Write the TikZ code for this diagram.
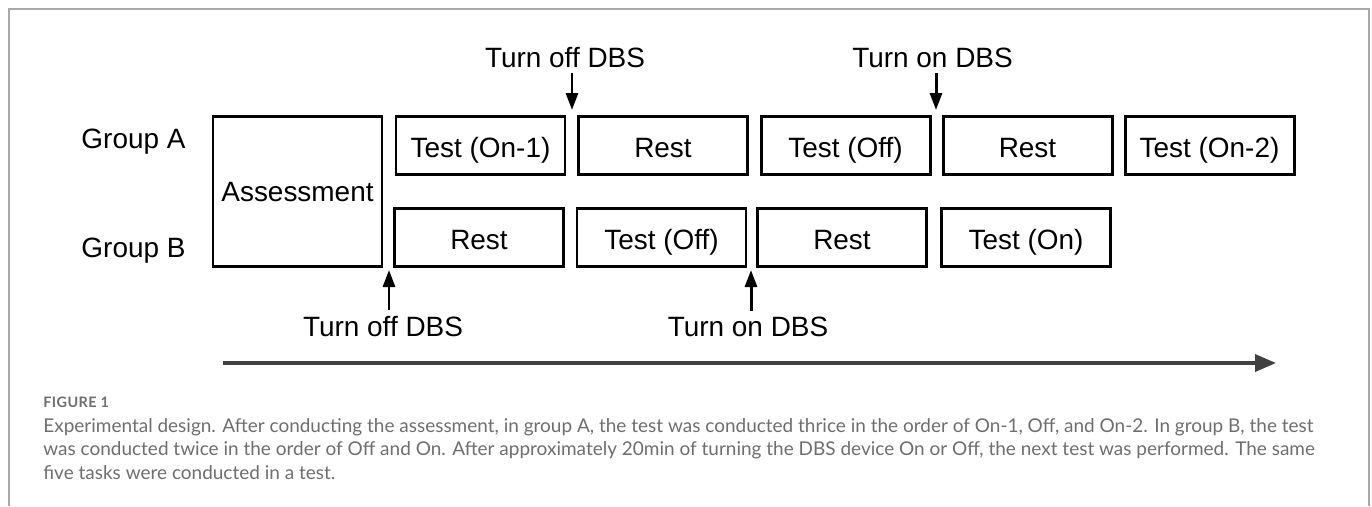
\documentclass[tikz,border=0pt]{standalone}
\usepackage{fontspec}
\setmainfont{Liberation Sans}
\newfontfamily\capfont{Lato}
\newfontfamily\figfont[LetterSpace=3]{Lato}
\usepackage{tikz}
\usetikzlibrary{arrows.meta,positioning}
\definecolor{framegray}{HTML}{A8A8A8}
\definecolor{axisgray}{HTML}{404040}
\definecolor{captiongray}{HTML}{6E6E6E}

\begin{document}
\begin{tikzpicture}[>=Stealth, font=\fontsize{15.9}{19}\selectfont,
  phase/.style={draw,line width=1.7pt,minimum width=3.38cm,minimum height=1.16cm,inner sep=0pt,text height=0.46cm,text depth=0cm},
  grp/.style={anchor=base},
  switch/.style={anchor=base,inner sep=3pt},
  turn/.style={-{Triangle[length=0.34cm,width=0.24cm]},line width=1.7pt},
  timeline/.style={-{Triangle[length=0.42cm,width=0.34cm]},line width=2pt,axisgray}]
 \useasboundingbox (0,0) rectangle (27.44,-10.12);
 % frame
 \draw[framegray,line width=0.8pt] (0.18,-10.12) |- (27.38,-0.18) -- (27.38,-10.12);
 % groups
 \node[grp] (grpA) at (2.67,-2.96) {Group A};
 \node[grp] (grpB) at (2.67,-5.14) {Group B};
 \node[phase,minimum height=3.0cm,text height=0.4cm] (assess) at (5.95,-3.83) {Assessment};
 % group A
 \node[phase] (a1) at (9.61,-2.91) {Test (On-1)};
 \node[phase] (a2) at (13.26,-2.91) {Rest};
 \node[phase] (a3) at (16.91,-2.91) {Test (Off)};
 \node[phase] (a4) at (20.55,-2.91) {Rest};
 \node[phase] (a5) at (24.19,-2.91) {Test (On-2)};
 % group B
 \node[phase] (b1) at (9.58,-4.75) {Rest};
 \node[phase] (b2) at (13.23,-4.75) {Test (Off)};
 \node[phase] (b3) at (16.84,-4.75) {Rest};
 \node[phase] (b4) at (20.52,-4.75) {Test (On)};
 % switching DBS
 \node[switch] (offA) at (11.30,-1.34) {Turn off DBS};
 \node[switch] (onA) at (18.65,-1.34) {Turn on DBS};
 \coordinate (offAtip) at (11.44,-2.20);
 \coordinate (onAtip) at (18.72,-2.20);
 \draw[turn] (offA.south -| offAtip) -- (offAtip);
 \draw[turn] (onA.south -| onAtip) -- (onAtip);
 \node[switch] (offB) at (7.66,-6.72) {Turn off DBS};
 \node[switch] (onB) at (14.96,-6.72) {Turn on DBS};
 \coordinate (offBtip) at (7.78,-5.40);
 \coordinate (onBtip) at (15.02,-5.40);
 \draw[turn] (offB.north -| offBtip) -- (offBtip);
 \draw[turn] (onB.north -| onBtip) -- (onBtip);
 % time axis
 \coordinate (tstart) at (4.46,-7.26);
 \coordinate (tend) at (25.52,-7.26);
 \draw[timeline] (tstart) -- (tend);
 % caption
 \node[anchor=base west,inner sep=0pt,text=captiongray,font=\figfont\bfseries\fontsize{8.2}{10}\selectfont] (figlabel) at (0.86,-8.14) {FIGURE 1};
 \node[anchor=north west,align=left,inner sep=0pt,text=captiongray,font=\capfont\fontsize{10.8}{13.37}\selectfont] (caption) at (0.86,-8.36) {Experimental design. After conducting the assessment, in group A, the test was conducted thrice in the order of On-1, Off, and On-2. In group B, the test\\was conducted twice in the order of Off and On. After approximately 20min of turning the DBS device On or Off, the next test was performed. The same\\five tasks were conducted in a test.};
\end{tikzpicture}
\end{document}
